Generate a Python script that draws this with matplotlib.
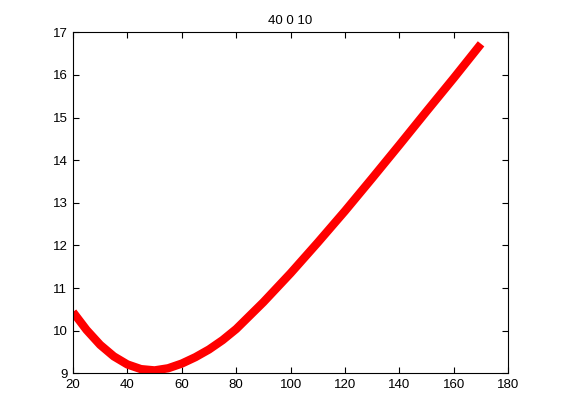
import matplotlib
matplotlib.use('Agg')
import matplotlib.pyplot as plt

# values
x_vals = [20, 25, 30, 35, 40, 45, 50, 55, 60, 65, 70, 75, 80, 90, 100, 110, 120, 130, 140, 150, 160, 170]
y_vals = [10.44, 10.02, 9.67, 9.40, 9.21, 9.10, 9.07, 9.12, 9.23, 9.38, 9.56, 9.78, 10.04, 10.67, 11.35, 12.07, 12.81,
          13.58, 14.36, 15.15, 15.93, 16.73]
x_ticks = [20, 40, 60, 80, 100, 120, 140, 160, 180]
y_ticks = [9, 10, 11, 12, 13, 14, 15, 16, 17]
title_text = '40 0 10'

plt.rcParams['font.family'] = ['Liberation Sans', 'DejaVu Sans']

fig = plt.figure(figsize=(5.61, 4.2), dpi=100)
ax = fig.add_axes([0.13, 0.111, 0.776, 0.812])
ax.plot(x_vals, y_vals, color='#ff0000', lw=6, solid_capstyle='butt', solid_joinstyle='round')
ax.set_xlim(20, 180)
ax.set_ylim(9, 17)
ax.set_xticks(x_ticks)
ax.set_yticks(y_ticks)
ax.tick_params(direction='in', top=True, right=True, length=4, width=0.8, labelsize=9.5, pad=4)
for s in ax.spines.values():
    s.set_linewidth(0.8)
ax.set_title(title_text, fontsize=9.5, pad=6)

fig.savefig('out.png', dpi=100)
